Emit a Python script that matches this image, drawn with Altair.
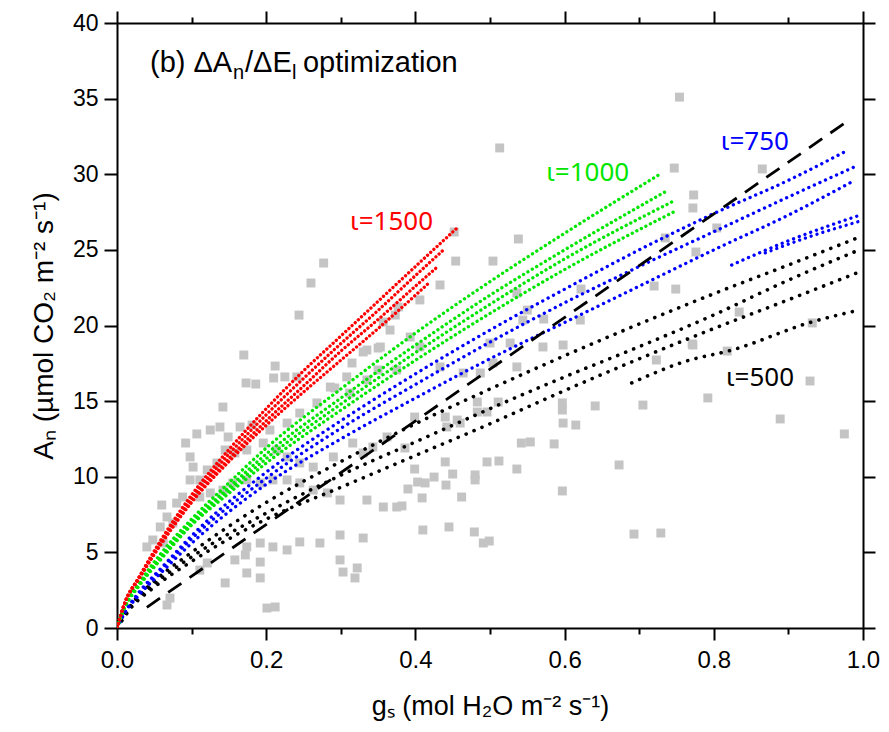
import altair as alt
import pandas as pd

# ---------------- observed data (grey squares) ----------------
obs_gs = [0.277, 0.260, 0.244, 0.170, 0.212, 0.210, 0.225, 0.241, 0.173, 0.186,
          0.142, 0.107, 0.092, 0.125, 0.138, 0.149, 0.165, 0.181, 0.205, 0.228,
          0.245, 0.268, 0.286, 0.308, 0.335, 0.350, 0.366, 0.373, 0.098, 0.102,
          0.098, 0.111, 0.121, 0.134, 0.145, 0.158, 0.174, 0.196, 0.214, 0.228,
          0.245, 0.263, 0.290, 0.316, 0.330, 0.343, 0.362, 0.060, 0.067, 0.075,
          0.058, 0.048, 0.040, 0.062, 0.080, 0.088, 0.111, 0.125, 0.142, 0.155,
          0.174, 0.192, 0.209, 0.228, 0.245, 0.263, 0.282, 0.299, 0.335, 0.357,
          0.375, 0.299, 0.330, 0.245, 0.272, 0.228, 0.209, 0.192, 0.174, 0.158,
          0.172, 0.192, 0.174, 0.192, 0.145, 0.299, 0.303, 0.322, 0.319, 0.067,
          0.071, 0.201, 0.212, 0.121, 0.111,
          0.641, 0.705, 0.597, 0.597, 0.598, 0.615, 0.542, 0.554, 0.586, 0.496,
          0.512, 0.536, 0.673, 0.440, 0.450, 0.480, 0.480, 0.425, 0.403, 0.413,
          0.441, 0.390, 0.597, 0.409, 0.462, 0.382, 0.410, 0.445, 0.479, 0.491,
          0.499, 0.693, 0.399, 0.440, 0.456, 0.442, 0.460, 0.386, 0.399, 0.483,
          0.496, 0.483, 0.511,
          0.834, 0.771, 0.723, 0.818, 0.929, 0.792, 0.889, 0.975,
          0.747, 0.865, 0.773, 0.772, 0.804, 0.776, 0.735, 0.622, 0.720, 0.749,
          0.572, 0.621, 0.598, 0.772, 0.932, 0.571, 0.754,
          0.452, 0.538, 0.454, 0.504, 0.433, 0.536, 0.406, 0.377, 0.357, 0.353,
          0.330, 0.315, 0.393, 0.406, 0.433, 0.464, 0.487, 0.504, 0.536, 0.544,
          0.550, 0.527, 0.500, 0.292, 0.312, 0.335, 0.375, 0.350,
          0.513, 0.729]
obs_an = [24.13, 22.81, 20.69, 18.05, 17.32, 16.53, 16.60, 16.60, 16.20, 16.13,
          14.61, 12.83, 12.23, 13.09, 13.29, 12.63, 13.29, 13.42, 13.09, 13.55,
          14.21, 14.88, 15.93, 16.60, 18.38, 18.51, 19.70, 20.69, 11.31, 10.64,
          9.79, 9.79, 10.45, 10.91, 11.77, 11.57, 11.77, 12.23, 11.77, 11.31,
          10.91, 10.64, 11.31, 12.23, 11.57, 11.97, 12.63, 8.13, 7.34, 6.94,
          6.68, 5.82, 5.36, 5.62, 8.26, 8.66, 8.66, 8.93, 9.12, 9.59,
          9.79, 9.59, 9.79, 9.79, 9.59, 9.12, 8.93, 8.46, 8.46, 8.00,
          8.00, 6.15, 5.95, 5.69, 5.62, 5.16, 5.36, 5.62, 5.36, 4.50,
          4.83, 4.36, 3.64, 3.31, 2.98, 4.50, 3.70, 3.97, 3.31, 1.52,
          1.98, 1.32, 1.39, 4.30, 3.83,
          14.68, 14.74, 14.88, 14.41, 13.55, 13.42, 12.23, 12.30, 12.17, 10.98,
          11.04, 10.51, 10.78, 10.98, 10.18, 10.12, 9.79, 9.98, 9.65, 9.59,
          9.45, 9.19, 9.06, 8.60, 8.66, 8.07, 6.48, 6.68, 6.35, 5.62,
          5.75, 6.21, 10.51, 13.95, 13.75, 13.29, 13.55, 11.90, 13.95, 14.28,
          14.28, 14.94, 14.94,
          20.89, 18.78, 17.72, 18.31, 16.33, 15.21, 13.82, 12.83,
          30.41, 30.35, 28.63, 27.77, 26.45, 24.86, 25.79, 22.41, 22.61, 22.41,
          20.43, 20.36, 18.71, 18.71, 20.17, 18.58, 35.10,
          26.18, 25.72, 24.26, 24.26, 22.68, 22.15, 21.69, 21.22, 20.23, 18.58,
          18.25, 17.52, 19.24, 18.58, 17.26, 16.86, 16.86, 17.52, 17.26, 20.36,
          21.02, 18.84, 18.84, 15.87, 15.54, 16.40, 17.06, 17.06,
          31.74, 6.28]

# ---------------- modelled curves ----------------
# iota = 1500 (red)
r1_gs = [0, 0.01, 0.03, 0.06, 0.1, 0.15, 0.2, 0.25, 0.3, 0.35, 0.4, 0.457]
r1_an = [0, 1.6, 3.4, 5.9, 8.8, 11.8, 14.5, 17.0, 19.3, 21.6, 23.9, 26.5]
r2_gs = [0, 0.01, 0.03, 0.06, 0.1, 0.15, 0.2, 0.25, 0.3, 0.35, 0.4, 0.44]
r2_an = [0, 1.6, 3.4, 5.8, 8.6, 11.5, 14.1, 16.5, 18.8, 21.0, 23.3, 25.1]
r3_gs = [0, 0.01, 0.03, 0.06, 0.1, 0.15, 0.2, 0.25, 0.3, 0.35, 0.4, 0.43]
r3_an = [0, 1.6, 3.3, 5.7, 8.4, 11.2, 13.7, 16.0, 18.3, 20.4, 22.6, 23.9]
r4_gs = [0, 0.01, 0.03, 0.06, 0.1, 0.15, 0.2, 0.25, 0.3, 0.35, 0.4, 0.42]
r4_an = [0, 1.6, 3.3, 5.6, 8.3, 11.0, 13.4, 15.6, 17.7, 19.8, 22.0, 22.9]

# iota = 1000 (green)
g1_gs = [0, 0.01, 0.03, 0.06, 0.1, 0.15, 0.2, 0.3, 0.4, 0.5, 0.6, 0.726]
g1_an = [0, 1.4, 3.0, 5.0, 7.2, 9.6, 11.9, 15.8, 19.5, 22.9, 26.1, 29.95]
g2_gs = [0, 0.01, 0.03, 0.06, 0.1, 0.15, 0.2, 0.3, 0.4, 0.5, 0.6, 0.737]
g2_an = [0, 1.35, 2.9, 4.8, 7.0, 9.3, 11.5, 15.2, 18.7, 22.0, 25.0, 28.9]
g3_gs = [0, 0.01, 0.03, 0.06, 0.1, 0.15, 0.2, 0.3, 0.4, 0.5, 0.6, 0.745]
g3_an = [0, 1.35, 2.9, 4.7, 6.9, 9.1, 11.2, 14.8, 18.2, 21.4, 24.4, 28.2]
g4_gs = [0, 0.01, 0.03, 0.06, 0.1, 0.15, 0.2, 0.3, 0.4, 0.5, 0.6, 0.75]
g4_an = [0, 1.3, 2.8, 4.6, 6.8, 8.9, 10.9, 14.4, 17.7, 20.8, 23.7, 27.6]

# iota = 750 (blue)
b1_gs = [0, 0.01, 0.03, 0.06, 0.1, 0.2, 0.3, 0.4, 0.5, 0.6, 0.7, 0.8, 0.9, 0.98]
b1_an = [0, 1.0, 2.4, 4.0, 6.1, 10.3, 13.7, 16.8, 19.7, 22.4, 25.0, 27.4, 29.6, 31.6]
b2_gs = [0, 0.01, 0.03, 0.06, 0.1, 0.2, 0.3, 0.4, 0.5, 0.6, 0.7, 0.8, 0.9, 0.989]
b2_an = [0, 1.0, 2.3, 3.9, 5.9, 9.9, 13.2, 16.1, 18.9, 21.5, 23.9, 26.2, 28.5, 30.5]
b3_gs = [0, 0.01, 0.03, 0.06, 0.1, 0.2, 0.3, 0.4, 0.5, 0.6, 0.7, 0.8, 0.9, 0.989]
b3_an = [0, 0.95, 2.2, 3.7, 5.6, 9.5, 12.5, 15.2, 17.8, 20.2, 22.6, 25.0, 27.3, 29.6]
b4_gs = [0.824, 0.9, 0.996]
b4_an = [24.0, 25.6, 27.3]
b5_gs = [0.869, 0.93, 0.996]
b5_an = [24.8, 25.9, 26.9]

# iota = 500 (black)
k1_gs = [0, 0.02, 0.05, 0.1, 0.2, 0.3, 0.4, 0.5, 0.6, 0.7, 0.8, 0.9, 0.993]
k1_an = [0, 1.6, 3.1, 5.0, 8.3, 11.0, 13.5, 15.8, 18.0, 20.1, 22.1, 24.0, 25.8]
k2_gs = [0, 0.02, 0.05, 0.1, 0.2, 0.3, 0.4, 0.5, 0.6, 0.7, 0.8, 0.9, 0.99]
k2_an = [0, 1.5, 2.9, 4.7, 7.6, 10.1, 12.3, 14.5, 16.6, 18.6, 20.7, 23.0, 24.9]
k3_gs = [0, 0.02, 0.05, 0.1, 0.2, 0.3, 0.4, 0.5, 0.6, 0.7, 0.8, 0.9, 0.993]
k3_an = [0, 1.4, 2.7, 4.4, 7.2, 9.3, 11.4, 13.5, 15.7, 17.8, 19.8, 21.7, 23.5]
k4_gs = [0.69, 0.76, 0.826, 0.929, 0.993]
k4_an = [16.2, 17.6, 18.4, 20.2, 21.0]

# dashed reference line
dash_gs = [0.04, 0.976]
dash_an = [1.37, 33.4]

# curve labels
lab_text = ["ι=1500", "ι=1000", "ι=750", "ι=500"]
lab_gs = [0.368, 0.631, 0.855, 0.862]
lab_an = [26.85, 30.06, 32.15, 16.56]
lab_color = ["#ff0000", "#00e600", "#0000ff", "#000000"]

# panel title, split into normal text and subscripts
panel_parts = ["(b) ΔA", "n", "/ΔE", "l", "optimization"]
panel_gs = [0.0442, 0.1555, 0.1716, 0.2346, 0.2493]
panel_an = [36.76, 36.30, 36.76, 36.30, 36.76]
panel_size = [29, 20, 29, 20, 29]

x_ticks = [0, 0.1, 0.2, 0.3, 0.4, 0.5, 0.6, 0.7, 0.8, 0.9, 1.0]
y_ticks = [0, 5, 10, 15, 20, 25, 30, 35, 40]

FONT = "Liberation Sans"


def curves_df(pairs):
    rows = []
    for i, (xs_, ys_) in enumerate(pairs):
        for xv, yv in zip(xs_, ys_):
            rows.append({"gs": xv, "an": yv, "curve": str(i)})
    return pd.DataFrame(rows)


xs = alt.Scale(domain=[0, 1.0], nice=False, zero=False)
ys = alt.Scale(domain=[0, 40], nice=False, zero=False)

minor_size = {"expr": "round(datum.value*10) % 2 == 0 ? 12 : 6"}
common = dict(domainColor="black", domainWidth=2, tickColor="black", tickWidth=2,
              grid=False, labelFont=FONT, labelColor="black", titleFont=FONT,
              titleColor="black", titleFontWeight="normal")

x_bottom = alt.Axis(orient="bottom", values=x_ticks, tickSize=minor_size,
                    labelExpr="round(datum.value*10) % 2 == 0 ? format(datum.value, '.1f') : ''",
                    labelFontSize=24, labelPadding=8, labelFlush=False,
                    title="gₛ (mol H₂O m⁻² s⁻¹)", titleFontSize=27, titlePadding=21,
                    **common)
x_top = alt.Axis(orient="top", values=x_ticks, tickSize=minor_size, labels=False,
                 title="", **common)
y_left = alt.Axis(orient="left", values=y_ticks, tickSize=13, labelFontSize=23,
                  labelPadding=6, title="Aₙ (µmol CO₂ m⁻² s⁻¹)", titleFontSize=28,
                  titlePadding=14, **common)
y_right = alt.Axis(orient="right", values=y_ticks, tickSize=12, labels=False,
                   title="", **common)

obs_df = pd.DataFrame({"gs": obs_gs, "an": obs_an})
scatter = alt.Chart(obs_df).mark_square(size=80, color="#c4c4c4", opacity=1).encode(
    x=alt.X("gs:Q", scale=xs, axis=x_bottom),
    y=alt.Y("an:Q", scale=ys, axis=y_left),
)


def dotted(pairs, color, gap, width=3.3):
    return alt.Chart(curves_df(pairs)).mark_line(
        color=color, strokeWidth=width, strokeDash=[0.1, gap], strokeCap="round",
        interpolate="monotone", clip=True
    ).encode(
        x=alt.X("gs:Q", scale=xs, axis=None),
        y=alt.Y("an:Q", scale=ys, axis=None),
        detail="curve:N",
    )


black = dotted([(k1_gs, k1_an), (k2_gs, k2_an), (k3_gs, k3_an), (k4_gs, k4_an)], "#000000", 8.5, 3.6)
blue = dotted([(b1_gs, b1_an), (b2_gs, b2_an), (b3_gs, b3_an), (b4_gs, b4_an), (b5_gs, b5_an)], "#0000ff", 6)
green = dotted([(g1_gs, g1_an), (g2_gs, g2_an), (g3_gs, g3_an), (g4_gs, g4_an)], "#00e600", 5)
red = dotted([(r1_gs, r1_an), (r2_gs, r2_an), (r3_gs, r3_an), (r4_gs, r4_an)], "#ff0000", 4.2)

dash_df = pd.DataFrame({"gs": dash_gs, "an": dash_an})
dashed = alt.Chart(dash_df).mark_line(color="black", strokeWidth=2.8, strokeDash=[16, 10]).encode(
    x=alt.X("gs:Q", scale=xs, axis=x_top),
    y=alt.Y("an:Q", scale=ys, axis=y_right),
)

lab_df = pd.DataFrame({"gs": lab_gs, "an": lab_an, "t": lab_text, "c": lab_color})
labels = alt.Chart(lab_df).mark_text(font="Noto Sans", fontSize=26, align="center", baseline="middle").encode(
    x=alt.X("gs:Q", scale=xs, axis=None),
    y=alt.Y("an:Q", scale=ys, axis=None),
    text="t:N",
    color=alt.Color("c:N", scale=None),
)

panel_df = pd.DataFrame({"gs": panel_gs, "an": panel_an, "t": panel_parts, "s": panel_size})
panel = alt.Chart(panel_df).mark_text(font=FONT, align="left", baseline="alphabetic", color="black").encode(
    x=alt.X("gs:Q", scale=xs, axis=None),
    y=alt.Y("an:Q", scale=ys, axis=None),
    text="t:N",
    size=alt.Size("s:Q", scale=None),
)

chart = alt.layer(scatter, black, blue, dashed, green, red, labels, panel).resolve_axis(
    x="independent", y="independent"
).properties(
    width=746, height=605,
    autosize=alt.AutoSizeParams(type="none"),
    padding={"left": 117, "top": 23, "right": 26, "bottom": 104},
).configure_view(stroke=None).configure(background="white")

chart.save("out.html", embed_options={"renderer": "svg", "actions": False})
